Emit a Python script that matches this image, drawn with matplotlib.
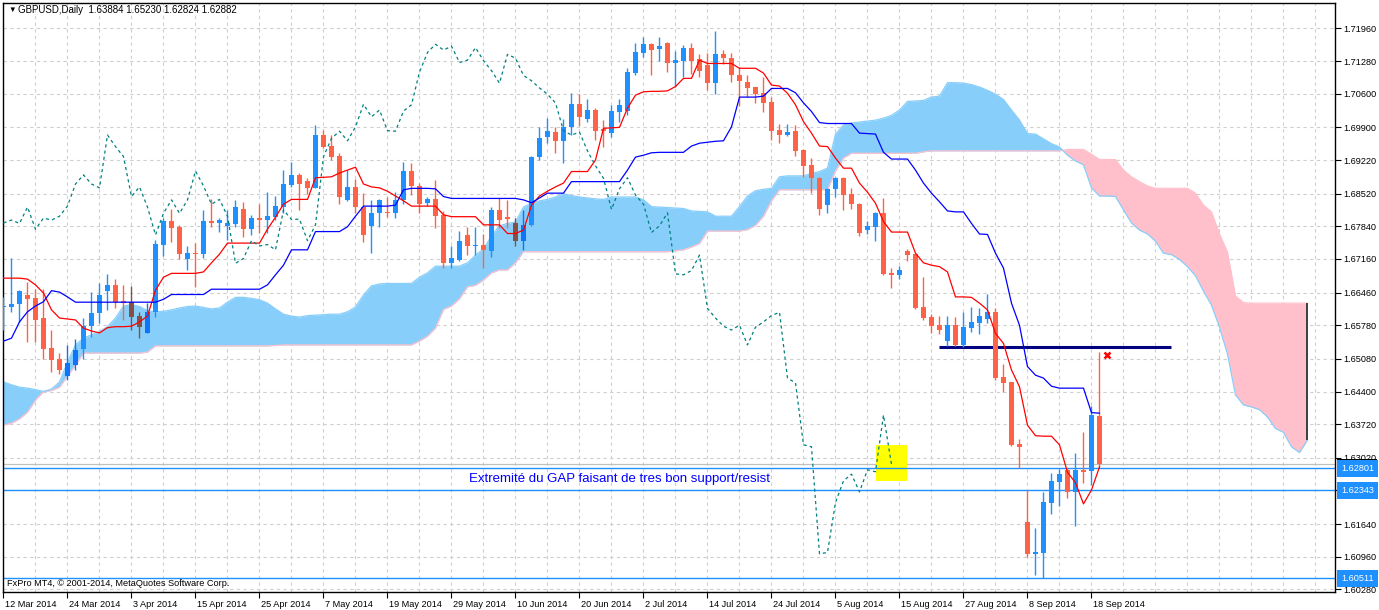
import matplotlib
matplotlib.use('Agg')
import matplotlib.pyplot as plt
import matplotlib.transforms as mtransforms
from matplotlib.colors import to_rgb
from matplotlib.patches import Rectangle
import numpy as np

plt.rcParams['font.family'] = ['Liberation Sans', 'DejaVu Sans']

symbol = 'GBPUSD,Daily'
date_labels = ['12 Mar 2014', '24 Mar 2014', '3 Apr 2014', '15 Apr 2014', '25 Apr 2014',
               '7 May 2014', '19 May 2014', '29 May 2014', '10 Jun 2014', '20 Jun 2014',
               '2 Jul 2014', '14 Jul 2014', '24 Jul 2014', '5 Aug 2014', '15 Aug 2014',
               '27 Aug 2014', '8 Sep 2014', '18 Sep 2014']
label_step = 8
grid_step = 4
shift = 26

# daily candles, 12 Mar 2014 .. 19 Sep 2014
opens = [1.6615, 1.6617, 1.6622, 1.6641, 1.6635, 1.6594, 1.6531, 1.6508, 1.6473, 1.6495,
         1.6528, 1.6576, 1.6604, 1.6649, 1.6662, 1.6628, 1.6626, 1.6597, 1.6562, 1.6606,
         1.6745, 1.6794, 1.6783, 1.6715, 1.6728, 1.6726, 1.6796, 1.6791, 1.6785, 1.6789,
         1.6821, 1.6778, 1.6801, 1.6797, 1.6804, 1.6825, 1.6870, 1.6891, 1.6878, 1.6864,
         1.6974, 1.6952, 1.6930, 1.6839, 1.6866, 1.6824, 1.6785, 1.6811, 1.6813, 1.6811,
         1.6839, 1.6899, 1.6868, 1.6833, 1.6840, 1.6808, 1.6707, 1.6714, 1.6766, 1.6743,
         1.6746, 1.6733, 1.6818, 1.6804, 1.6791, 1.6754, 1.6787, 1.6928, 1.6969, 1.6981,
         1.6962, 1.6991, 1.7038, 1.7007, 1.7026, 1.6986, 1.6979, 1.7023, 1.7025, 1.7103,
         1.7145, 1.7164, 1.7153, 1.7166, 1.7125, 1.7129, 1.7156, 1.7132, 1.7120, 1.7082,
         1.7142, 1.7135, 1.7099, 1.7084, 1.7073, 1.7062, 1.7043, 1.6984, 1.6974, 1.6983,
         1.6943, 1.6911, 1.6885, 1.6828, 1.6861, 1.6885, 1.6851, 1.6830, 1.6776, 1.6783,
         1.6811, 1.6686, 1.6683, 1.6733, 1.6726, 1.6616, 1.6595, 1.6578, 1.6545, 1.6578,
         1.6537, 1.6573, 1.6583, 1.6591, 1.6605, 1.6471, 1.6459, 1.6331, 1.6168, 1.6102,
         1.6104, 1.6208, 1.6252, 1.6277, 1.6231, 1.6277, 1.6275, 1.63884]
highs = [1.6636, 1.6717, 1.6651, 1.6667, 1.6653, 1.6653, 1.6568, 1.6521, 1.6537, 1.6549,
         1.6594, 1.6648, 1.6665, 1.6684, 1.6674, 1.6662, 1.6660, 1.6606, 1.6625, 1.6755,
         1.6801, 1.6819, 1.6787, 1.6743, 1.6750, 1.6818, 1.6840, 1.6801, 1.6818, 1.6839,
         1.6835, 1.6808, 1.6830, 1.6856, 1.6847, 1.6901, 1.6917, 1.6894, 1.6884, 1.6995,
         1.6984, 1.6974, 1.6936, 1.6901, 1.6882, 1.6854, 1.6839, 1.6841, 1.6846, 1.6856,
         1.6918, 1.6915, 1.6875, 1.6846, 1.6880, 1.6816, 1.6742, 1.6775, 1.6783, 1.6782,
         1.6768, 1.6824, 1.6843, 1.6839, 1.6801, 1.6818, 1.6930, 1.6991, 1.7009, 1.6990,
         1.7007, 1.7061, 1.7059, 1.7048, 1.7030, 1.7005, 1.7037, 1.7050, 1.7113, 1.7166,
         1.7179, 1.7166, 1.7179, 1.7168, 1.7148, 1.7161, 1.7165, 1.7143, 1.7144, 1.7191,
         1.7151, 1.7144, 1.7116, 1.7099, 1.7075, 1.7094, 1.7053, 1.6997, 1.6998, 1.6995,
         1.6945, 1.6926, 1.6886, 1.6863, 1.6887, 1.6887, 1.6863, 1.6832, 1.6795, 1.6814,
         1.6842, 1.6697, 1.6701, 1.6736, 1.6728, 1.6678, 1.6601, 1.6597, 1.6598, 1.6596,
         1.6606, 1.6615, 1.6613, 1.6643, 1.6613, 1.6497, 1.6460, 1.6341, 1.62343, 1.6156,
         1.6231, 1.6270, 1.6278, 1.6280, 1.6313, 1.6356, 1.6410, 1.65230]
lows = [1.6568, 1.6606, 1.6585, 1.6544, 1.6544, 1.6507, 1.6480, 1.6476, 1.6464, 1.6485,
        1.6508, 1.6554, 1.6582, 1.6610, 1.6613, 1.6589, 1.6568, 1.6552, 1.6561, 1.6596,
        1.6722, 1.6752, 1.6715, 1.6694, 1.6657, 1.6717, 1.6783, 1.6773, 1.6755, 1.6783,
        1.6761, 1.6766, 1.6771, 1.6769, 1.6797, 1.6811, 1.6866, 1.6818, 1.6851, 1.6863,
        1.6946, 1.6921, 1.6830, 1.6837, 1.6811, 1.6752, 1.6729, 1.6782, 1.6804, 1.6801,
        1.6830, 1.6849, 1.6811, 1.6826, 1.6781, 1.6697, 1.6697, 1.6712, 1.6724, 1.6724,
        1.6697, 1.6721, 1.6780, 1.6780, 1.6742, 1.6735, 1.6785, 1.6922, 1.6958, 1.6936,
        1.6916, 1.6974, 1.6993, 1.7002, 1.6964, 1.6950, 1.6969, 1.7002, 1.7016, 1.7098,
        1.7137, 1.7099, 1.7129, 1.7106, 1.7075, 1.7095, 1.7101, 1.7094, 1.7068, 1.7059,
        1.7122, 1.7085, 1.7034, 1.7053, 1.7040, 1.7023, 1.6964, 1.6958, 1.6971, 1.6930,
        1.6887, 1.6854, 1.6808, 1.6812, 1.6844, 1.6818, 1.6821, 1.6764, 1.6768, 1.6754,
        1.6683, 1.6656, 1.6675, 1.6712, 1.6611, 1.6589, 1.6561, 1.6560, 1.6535, 1.6535,
        1.6533, 1.6563, 1.6560, 1.6582, 1.6465, 1.6438, 1.6327, 1.62801, 1.6096, 1.6058,
        1.60511, 1.6186, 1.6202, 1.6219, 1.6160, 1.6249, 1.6245, 1.62824]
closes = [1.6619, 1.6622, 1.6649, 1.6633, 1.6589, 1.6528, 1.6506, 1.6485, 1.6499, 1.6526,
          1.6576, 1.6604, 1.6641, 1.6662, 1.6626, 1.6624, 1.6596, 1.6574, 1.6606, 1.6747,
          1.6794, 1.6781, 1.6726, 1.6728, 1.6726, 1.6795, 1.6791, 1.6797, 1.6790, 1.6824,
          1.6778, 1.6801, 1.6797, 1.6805, 1.6826, 1.6872, 1.6891, 1.6872, 1.6864, 1.6974,
          1.6950, 1.6929, 1.6846, 1.6866, 1.6824, 1.6766, 1.6811, 1.6839, 1.6811, 1.6839,
          1.6899, 1.6868, 1.6830, 1.6840, 1.6805, 1.6707, 1.6717, 1.6754, 1.6743, 1.6746,
          1.6735, 1.6818, 1.6798, 1.6799, 1.6754, 1.6787, 1.6929, 1.6967, 1.6982, 1.6962,
          1.6991, 1.7038, 1.7012, 1.7026, 1.6983, 1.6982, 1.7024, 1.7037, 1.7105, 1.7146,
          1.7163, 1.7151, 1.7159, 1.7125, 1.7130, 1.7156, 1.7129, 1.7108, 1.7082, 1.7142,
          1.7134, 1.7098, 1.7087, 1.7072, 1.7059, 1.7041, 1.6983, 1.6974, 1.6980, 1.6941,
          1.6910, 1.6884, 1.6819, 1.6862, 1.6885, 1.6849, 1.6830, 1.6771, 1.6785, 1.6812,
          1.6685, 1.6683, 1.6692, 1.6724, 1.6613, 1.6593, 1.6576, 1.6568, 1.6578, 1.6537,
          1.6574, 1.6585, 1.6598, 1.6605, 1.6468, 1.6458, 1.6329, 1.6325, 1.6102, 1.6105,
          1.6209, 1.6254, 1.6268, 1.6231, 1.6277, 1.6273, 1.6391, 1.62882]

# Ichimoku lines as shown on the chart
tenkan = [1.6676, 1.6676, 1.6676, 1.6674, 1.6662, 1.6645, 1.6610, 1.6593, 1.6591, 1.6589,
          1.6572, 1.6566, 1.6562, 1.6573, 1.6575, 1.6575, 1.6576, 1.6585, 1.6597, 1.6651,
          1.6678, 1.6686, 1.6686, 1.6686, 1.6686, 1.6689, 1.6708, 1.6726, 1.6749, 1.6749,
          1.6749, 1.6749, 1.6749, 1.6778, 1.6803, 1.6830, 1.6840, 1.6840, 1.6840, 1.6885,
          1.6886, 1.6887, 1.6895, 1.6901, 1.6907, 1.6872, 1.6866, 1.6864, 1.6857, 1.6847,
          1.6837, 1.6826, 1.6826, 1.6826, 1.6826, 1.6808, 1.6804, 1.6804, 1.6804, 1.6804,
          1.6787, 1.6787, 1.6787, 1.6769, 1.6769, 1.6776, 1.6828, 1.6847, 1.6857, 1.6866,
          1.6874, 1.6898, 1.6898, 1.6898, 1.6922, 1.6988, 1.6989, 1.6990, 1.7030, 1.7057,
          1.7064, 1.7065, 1.7065, 1.7066, 1.7075, 1.7092, 1.7092, 1.7130, 1.7123, 1.7123,
          1.7123, 1.7123, 1.7113, 1.7113, 1.7113, 1.7103, 1.7078, 1.7076, 1.7061, 1.7037,
          1.7002, 1.6978, 1.6951, 1.6950, 1.6926, 1.6905, 1.6905, 1.6874, 1.6855, 1.6832,
          1.6794, 1.6772, 1.6772, 1.6772, 1.6728, 1.6708, 1.6703, 1.6700, 1.6689, 1.6637,
          1.6637, 1.6636, 1.6624, 1.6610, 1.6561, 1.6540, 1.6485, 1.6450, 1.6370, 1.6348,
          1.6347, 1.6347, 1.6329, 1.6272, 1.6250, 1.6206, 1.6235, 1.6283]
kijun = [1.6545, 1.6551, 1.6585, 1.6606, 1.6618, 1.6627, 1.6650, 1.6647, 1.6637, 1.6626,
         1.6626, 1.6626, 1.6626, 1.6626, 1.6626, 1.6626, 1.6626, 1.6626, 1.6626, 1.6626,
         1.6632, 1.6642, 1.6642, 1.6642, 1.6642, 1.6642, 1.6653, 1.6653, 1.6653, 1.6653,
         1.6653, 1.6653, 1.6653, 1.6662, 1.6683, 1.6703, 1.6735, 1.6735, 1.6735, 1.6773,
         1.6773, 1.6773, 1.6773, 1.6783, 1.6805, 1.6826, 1.6826, 1.6826, 1.6826, 1.6828,
         1.6860, 1.6863, 1.6863, 1.6863, 1.6862, 1.6846, 1.6842, 1.6842, 1.6842, 1.6842,
         1.6842, 1.6842, 1.6842, 1.6842, 1.6842, 1.6839, 1.6833, 1.6843, 1.6853, 1.6853,
         1.6853, 1.6877, 1.6877, 1.6877, 1.6877, 1.6877, 1.6877, 1.6877, 1.6901, 1.6928,
         1.6932, 1.6937, 1.6938, 1.6938, 1.6938, 1.6938, 1.6951, 1.6957, 1.6959, 1.6961,
         1.6962, 1.6991, 1.7053, 1.7053, 1.7053, 1.7055, 1.7071, 1.7071, 1.7071, 1.7062,
         1.7041, 1.7023, 1.7000, 1.6998, 1.6998, 1.6998, 1.6998, 1.6978, 1.6977, 1.6976,
         1.6938, 1.6924, 1.6924, 1.6924, 1.6901, 1.6874, 1.6853, 1.6835, 1.6816, 1.6814,
         1.6814, 1.6790, 1.6768, 1.6767, 1.6728, 1.6697, 1.6624, 1.6578, 1.6492, 1.6474,
         1.6468, 1.6451, 1.6447, 1.6447, 1.6447, 1.6447, 1.6396, 1.6395]
span_a = [1.6460, 1.6454, 1.6449, 1.6447, 1.6444, 1.6440, 1.6445, 1.6460, 1.6501, 1.6537,
          1.6551, 1.6558, 1.6565, 1.6575, 1.6593, 1.6618, 1.6621, 1.6617, 1.6608, 1.6606,
          1.6607, 1.6610, 1.6614, 1.6617, 1.6618, 1.6615, 1.6612, 1.6614, 1.6626, 1.6636,
          1.6636, 1.6634, 1.6631, 1.6624, 1.6612, 1.6601, 1.6597, 1.6595, 1.6598, 1.6599,
          1.6600, 1.6601, 1.6601, 1.6606, 1.6616, 1.6641, 1.6660, 1.6664, 1.6665, 1.6665,
          1.6665, 1.6665, 1.6678, 1.6687, 1.6701, 1.6701, 1.6701, 1.6701, 1.6708, 1.6724,
          1.6737, 1.6764, 1.6785, 1.6790, 1.6793, 1.6824, 1.6832, 1.6837, 1.6840, 1.6845,
          1.6852, 1.6848, 1.6845, 1.6843, 1.6841, 1.6840, 1.6845, 1.6845, 1.6845, 1.6845,
          1.6839, 1.6825, 1.6824, 1.6823, 1.6822, 1.6821, 1.6816, 1.6815, 1.6814, 1.6805,
          1.6805, 1.6805, 1.6825, 1.6847, 1.6858, 1.6861, 1.6863, 1.6887, 1.6889, 1.6889,
          1.6889, 1.6894, 1.6898, 1.6905, 1.6976, 1.6995, 1.6999, 1.7001, 1.7003, 1.7005,
          1.7009, 1.7015, 1.7026, 1.7044, 1.7045, 1.7046, 1.7053, 1.7055, 1.7083, 1.7083,
          1.7082, 1.7079, 1.7074, 1.7067, 1.7059, 1.7048, 1.7026, 1.7005, 1.6977, 1.6976,
          1.6966, 1.6956, 1.6949, 1.6932, 1.6920, 1.6912, 1.6864, 1.6847, 1.6847, 1.6846,
          1.6818, 1.6791, 1.6776, 1.6768, 1.6753, 1.6728, 1.6725, 1.6715, 1.6700, 1.6681,
          1.6649, 1.6620, 1.6574, 1.6518, 1.6433, 1.6412, 1.6408, 1.6402, 1.6387, 1.6363,
          1.6355, 1.6325, 1.6313, 1.6339]
span_b = [1.6370, 1.6374, 1.6383, 1.6397, 1.6422, 1.6440, 1.6442, 1.6449, 1.6472, 1.6495,
          1.6520, 1.6520, 1.6520, 1.6520, 1.6520, 1.6520, 1.6520, 1.6520, 1.6522, 1.6535,
          1.6535, 1.6535, 1.6535, 1.6535, 1.6535, 1.6535, 1.6535, 1.6535, 1.6535, 1.6535,
          1.6535, 1.6535, 1.6535, 1.6535, 1.6536, 1.6537, 1.6537, 1.6537, 1.6537, 1.6537,
          1.6537, 1.6537, 1.6537, 1.6537, 1.6537, 1.6537, 1.6537, 1.6537, 1.6537, 1.6537,
          1.6537, 1.6537, 1.6545, 1.6555, 1.6572, 1.6611, 1.6618, 1.6633, 1.6658, 1.6661,
          1.6672, 1.6687, 1.6693, 1.6693, 1.6708, 1.6731, 1.6731, 1.6731, 1.6731, 1.6731,
          1.6731, 1.6731, 1.6731, 1.6731, 1.6731, 1.6731, 1.6731, 1.6731, 1.6731, 1.6731,
          1.6731, 1.6731, 1.6731, 1.6731, 1.6733, 1.6735, 1.6741, 1.6748, 1.6774, 1.6774,
          1.6774, 1.6774, 1.6774, 1.6777, 1.6786, 1.6805, 1.6837, 1.6860, 1.6860, 1.6860,
          1.6860, 1.6860, 1.6860, 1.6860, 1.6899, 1.6926, 1.6936, 1.6936, 1.6936, 1.6936,
          1.6936, 1.6936, 1.6936, 1.6936, 1.6936, 1.6939, 1.6941, 1.6941, 1.6941, 1.6941,
          1.6941, 1.6941, 1.6941, 1.6941, 1.6941, 1.6941, 1.6941, 1.6941, 1.6941, 1.6941,
          1.6941, 1.6941, 1.6941, 1.6944, 1.6944, 1.6944, 1.6934, 1.6923, 1.6923, 1.6923,
          1.6901, 1.6887, 1.6877, 1.6868, 1.6863, 1.6863, 1.6863, 1.6863, 1.6863, 1.6853,
          1.6828, 1.6814, 1.6768, 1.6730, 1.6639, 1.6625, 1.6624, 1.6624, 1.6624, 1.6624,
          1.6624, 1.6624, 1.6624, 1.6624]

price_labels = ['1.71960', '1.71280', '1.70600', '1.69900', '1.69220', '1.68520', '1.67840',
                '1.67160', '1.66460', '1.65780', '1.65080', '1.64400', '1.63720', '1.63020',
                '1.62340', '1.61640', '1.60960', '1.60280']

# objects drawn on the chart
gap_top = 1.62801
gap_bottom = 1.62343
swing_low = 1.60511
resist_level = 1.65327
resist_bars = (117, 146)
exit_bar, exit_price = 138, 1.6515
box_bars = (109.1, 112.9)
box_prices = (1.6254, 1.6329)
note = 'Extremité du GAP faisant de tres bon support/resist'
note_bar = 77
copyright_text = 'FxPro MT4, © 2001-2014, MetaQuotes Software Corp.'

BULL = '#1E90FF'
BEAR = '#FF6347'
KUMO_UP = '#87CEFA'
KUMO_DN = '#FFC0CB'

W, H = 1379, 610
fig = plt.figure(figsize=(W / 100, H / 100), dpi=100)
ax = fig.add_axes([3 / W, 18 / H, 1332 / W, 589 / H])
ax.set_xlim(-0.0625, 166.44)
ax.set_ylim(1.60226, 1.72489)

o, h, l, c = (np.array(v) for v in (opens, highs, lows, closes))
a, b = np.array(span_a), np.array(span_b)
n = len(o)
x = np.arange(n)
kx = np.arange(len(a))

# grid
for gx in range(0, 167, grid_step):
    ax.axvline(gx, color='#CFCFCF', lw=0.8, ls=(0, (3, 3)), zorder=0)
for p in price_labels:
    ax.axhline(float(p), color='#CFCFCF', lw=0.8, ls=(0, (3, 3)), zorder=0)

# kumo
ax.fill_between(kx, a, b, where=a >= b, interpolate=True, color=KUMO_UP, lw=0, zorder=1)
ax.fill_between(kx, a, b, where=a < b, interpolate=True, color=KUMO_DN, lw=0, zorder=1)
ax.plot(kx, b, color=KUMO_DN, lw=0.9, zorder=1.2)
ax.plot(kx, a, color=KUMO_UP, lw=0.9, zorder=1.3)
ax.vlines(kx[-1], min(a[-1], b[-1]), max(a[-1], b[-1]), color='#1B2B2B', lw=1.2, zorder=1.4)

# horizontal levels
ax.axhline(closes[-1], color='#C0C0C0', lw=0.9, zorder=1.5)
for lvl in (gap_top, gap_bottom, swing_low):
    ax.axhline(lvl, color='#1E90FF', lw=1.0, zorder=1.6)
ax.add_patch(Rectangle((box_bars[0], box_prices[0]), box_bars[1] - box_bars[0],
                       box_prices[1] - box_prices[0], color='#FFFF00', lw=0, zorder=1.5))
ax.hlines(resist_level, resist_bars[0], resist_bars[1], color='#000080', lw=2.2, zorder=2)

# candles (bodies inside the cloud look darker, like on the terminal)
cols = []
for i in range(n):
    base = BULL if c[i] >= o[i] else BEAR
    mid = (o[i] + c[i]) / 2
    if min(a[i], b[i]) <= mid <= max(a[i], b[i]):
        cloud = KUMO_UP if a[i] >= b[i] else KUMO_DN
        cols.append(tuple(p * q for p, q in zip(to_rgb(base), to_rgb(cloud))))
    else:
        cols.append(base)
ax.vlines(x, l, h, colors=cols, lw=1.0, zorder=3)
body = np.maximum(np.abs(c - o), 0.00022)
ax.bar(x, body, bottom=np.minimum(o, c), width=0.62, color=cols, lw=0, zorder=3)

# ichimoku lines
ax.plot(x, tenkan, color='#FF0000', lw=0.9, zorder=4)
ax.plot(x, kijun, color='#0000FF', lw=0.9, zorder=4)
ax.plot(x[:n - shift], c[shift:], color='#008080', lw=0.9, ls=(0, (2.5, 2.5)), zorder=4)

ax.plot(exit_bar, exit_price, marker='x', color='#FF0000', ms=5, mew=1.8, zorder=5)
ax.text(note_bar, (gap_top + gap_bottom) / 2, note, color='#0000FF', fontsize=9.5,
        ha='center', va='center', zorder=6)

# axes look
tags = (gap_top, gap_bottom, swing_low)
for s in ax.spines.values():
    s.set_color('black')
    s.set_linewidth(1.0)
ax.yaxis.tick_right()
ax.set_yticks([float(p) for p in price_labels])
# labels hidden under a price tag are not shown by the terminal
ax.set_yticklabels(['' if min(abs(float(p) - t) for t in tags) < 0.0004 else p
                    for p in price_labels])
ax.tick_params(axis='y', direction='out', length=4, pad=2, labelsize=6.6, colors='black')
ax.set_xticks(range(0, n, label_step))
ax.set_xticklabels(date_labels)
ax.tick_params(axis='x', direction='out', length=4, pad=1.5, labelsize=6.6, colors='black')
off = mtransforms.ScaledTranslation(2 / 100, 0, fig.dpi_scale_trans)
for lbl in ax.get_xticklabels():
    lbl.set_ha('left')
    lbl.set_transform(lbl.get_transform() + off)

# bid tag (mostly hidden behind the 1.62801 tag)
bt = mtransforms.blended_transform_factory(ax.transAxes, ax.transData)
ax.add_patch(Rectangle((0.0015, closes[-1] - 0.0011), 0.0300, 0.0022, transform=bt,
                       color='black', lw=0, clip_on=False, zorder=9))
bt_patch = ax.patches[-1]
bt_patch.set_x(1.0015)


def price_tag(value, fc, tc, z):
    ax.annotate(f'{value:.5f}', xy=(1, value), xycoords=('axes fraction', 'data'),
                xytext=(4.3, 0), textcoords='offset points', ha='left', va='center',
                fontsize=6.6, color=tc, annotation_clip=False, zorder=z,
                bbox=dict(boxstyle='square,pad=0.45', fc=fc, ec='none'))


for lvl in tags:
    price_tag(lvl, '#1E90FF', 'white', 10)

fig.text(8 / W, 1 - 10 / H, '▼', fontsize=5.5, va='center')
fig.text(18 / W, 1 - 10 / H,
         f'{symbol}  {opens[-1]:.5f} {highs[-1]:.5f} {lows[-1]:.5f} {closes[-1]:.5f}',
         fontsize=7, va='center')
fig.text(7 / W, 1 - 584 / H, copyright_text, fontsize=6.6, va='center')

fig.savefig('out.png', dpi=100)
